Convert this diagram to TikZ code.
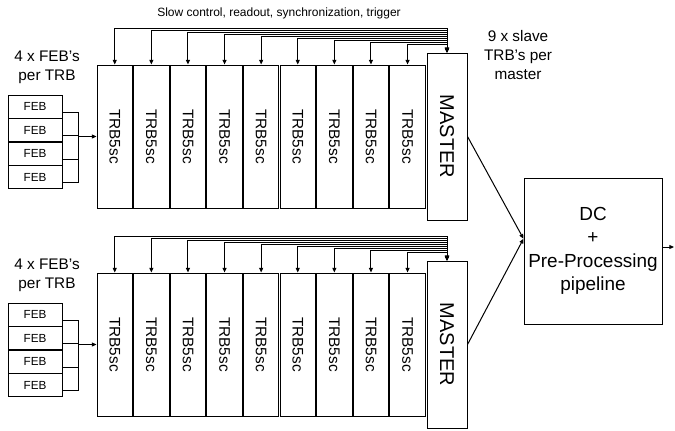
\documentclass[tikz,border=0pt]{standalone}
\usepackage{fontspec}
\setmainfont{Liberation Sans}
\usetikzlibrary{arrows.meta}

\tikzset{every picture/.style={line width=0.75pt}}
\tikzset{
	trbbox/.style={draw, rectangle, minimum width=26.6pt, minimum height=107.25pt, inner sep=0pt, font=\fontsize{11.5}{13}\selectfont},
	masterbox/.style={draw, rectangle, minimum width=30pt, minimum height=125.25pt, inner sep=0pt, font=\fontsize{15}{17}\selectfont},
	febbox/.style={draw, rectangle, minimum width=40.5pt, minimum height=17.6pt, inner sep=0pt, font=\fontsize{8.8}{10}\selectfont},
	dcbox/.style={draw, rectangle, minimum width=103.5pt, minimum height=109.5pt, inner sep=0pt, align=center, font=\fontsize{14.2}{17.5}\selectfont},
	lbl/.style={align=center, inner sep=0pt, font=\fontsize{11.5}{14.2}\selectfont},
	sig/.style={-{Triangle[length=3.5pt,width=3pt]}},
	bus/.style={{Triangle[length=3.5pt,width=3pt]}-{Triangle[length=3.5pt,width=3pt]}}
}

\begin{document}
\begin{tikzpicture}[x=0.75pt,y=0.75pt,yscale=-1,xscale=1]
	\useasboundingbox (0,0) rectangle (675,430);

	% DC box
	\node[dcbox] (dc) at (593,251) {DC\\+\\Pre-Processing\\pipeline};
	\coordinate (out) at (674,247);
	\draw[sig] (dc.east |- out) -- (out);

	% Text Node
	\node[font=\fontsize{9}{11}\selectfont, inner sep=0pt] (title) at (279,13) {Slow control, readout, synchronization, trigger};
	% Text Node
	\node[lbl] (slavelbl) at (518,55) {9 x slave\\TRB’s per\\master};

	\foreach \g/\dy in {1/0,2/208} {
		% TRB boards and master
		\foreach \i in {1,...,9}
			\node[trbbox] (t\g-\i) at ({114.75+(\i-1)*36.6},{136.5+\dy}) {\rotatebox{-90}{TRB5sc}};
		\node[masterbox] (m\g) at (447,{136.5+\dy}) {\rotatebox{-90}{MASTER}};

		% bus lines
		\foreach \i in {1,...,9} {
			\pgfmathsetmacro\yy{26+2*\i+\dy}
			\draw[bus] (t\g-\i.north) -- (t\g-\i.north |- 0,\yy) -| (m\g.north);
		}

		% FEB's
		\node[lbl] (feblbl\g) at (47,{67+\dy}) {4 x FEB’s\\per TRB};
		\foreach \k in {1,...,4}
			\node[febbox] (f\g-\k) at (35,{83.25+23.5*\k+\dy}) {FEB};
		\draw ([yshift=4.1pt]f\g-1.east) -| ([xshift=12pt,yshift=4.1pt]f\g-4.east) -- ([yshift=4.1pt]f\g-4.east);
		\draw ([yshift=4.1pt]f\g-2.east) -- ++(16,0);
		\draw ([yshift=4.1pt]f\g-3.east) -- ++(16,0);
		\coordinate (j\g) at (78,{136.5+\dy});
		\draw[sig] (j\g) -- (t\g-1.west);

		% master to DC
		\draw[sig] (m\g.east) -- (dc.170);
	}

\end{tikzpicture}
\end{document}
